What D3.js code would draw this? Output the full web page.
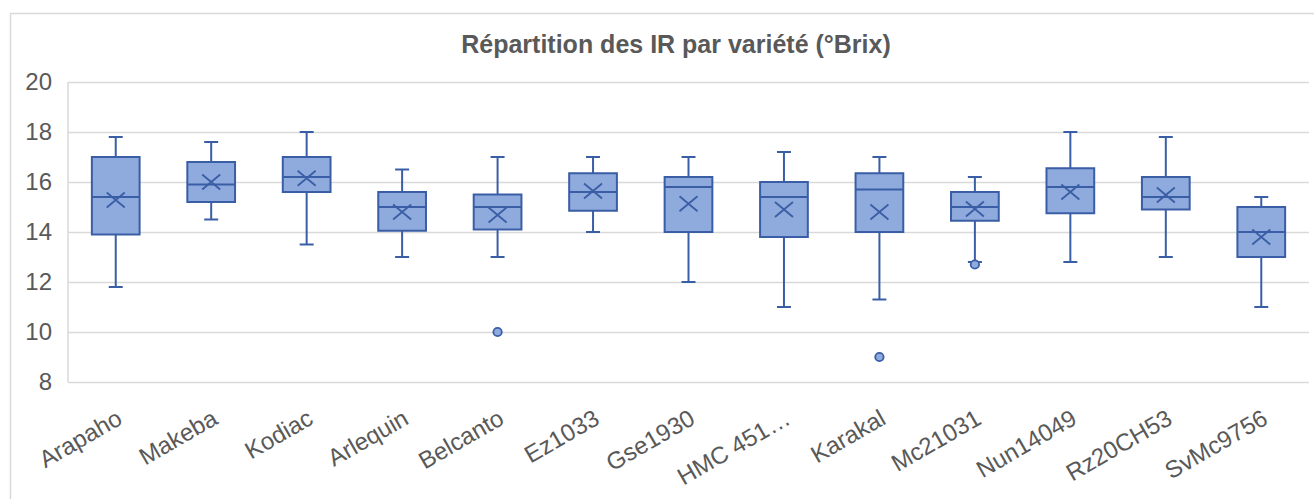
<!DOCTYPE html>
<html>
<head>
<meta charset="utf-8">
<script src="https://cdn.jsdelivr.net/npm/d3@7"></script>
<style>
  body { margin: 0; background: #fff; }
  svg { display: block; font-family: "Liberation Sans", Arial, sans-serif; }
</style>
</head>
<body>
<svg width="1314" height="499"></svg>
<script>
// data (°Brix)
const varieties = ["Arapaho", "Makeba", "Kodiac", "Arlequin", "Belcanto", "Ez1033", "Gse1930",
                   "HMC 451…", "Karakal", "Mc21031", "Nun14049", "Rz20CH53", "SvMc9756"];
const mins    = [11.8, 14.5, 13.5, 13.0, 13.0, 14.0, 12.0, 11.0, 11.3, 12.8, 12.8, 13.0, 11.0];
const q1s     = [13.9, 15.2, 15.6, 14.05, 14.1, 14.85, 14.0, 13.8, 14.0, 14.45, 14.75, 14.9, 13.0];
const medians = [15.4, 15.9, 16.2, 15.0, 15.0, 15.6, 15.8, 15.4, 15.7, 15.0, 15.8, 15.4, 14.0];
const q3s     = [17.0, 16.8, 17.0, 15.6, 15.5, 16.35, 16.2, 16.0, 16.35, 15.6, 16.55, 16.2, 15.0];
const maxs    = [17.8, 17.6, 18.0, 16.5, 17.0, 17.0, 17.0, 17.2, 17.0, 16.2, 18.0, 17.8, 15.4];
const means   = [15.28, 16.0, 16.15, 14.8, 14.68, 15.64, 15.13, 14.9, 14.8, 14.92, 15.6, 15.48, 13.8];
const outlierNames  = ["Belcanto", "Karakal", "Mc21031"];
const outlierValues = [10, 9, 12.7];
const yTicks = [8, 10, 12, 14, 16, 18, 20];
const title = "Répartition des IR par variété (°Brix)";

const textColor = "#595959";
const gridColor = "#d9d9d9";
const boxFill = "#8faadc";
const boxStroke = "#3a5ea6";

const svg = d3.select("svg");

// chart border
svg.append("rect")
  .attr("x", 10.5).attr("y", 13.5)
  .attr("width", 1340).attr("height", 520)
  .attr("fill", "white")
  .attr("stroke", gridColor)
  .attr("stroke-width", 1.5);

svg.append("text")
  .attr("x", 676).attr("y", 53)
  .attr("text-anchor", "middle")
  .attr("font-size", "25px")
  .attr("font-weight", "bold")
  .attr("fill", textColor)
  .text(title);

let xScale = d3.scaleBand().domain(varieties).range([68, 1309]).padding(0);
let yScale = d3.scaleLinear().domain([8, 20]).range([382, 82]);
const boxW = xScale.bandwidth() * 0.5;
const capW = 14;
const cx = d => xScale(d) + xScale.bandwidth() / 2;

// y axis + gridlines
let yAxis = d3.axisLeft().scale(yScale)
  .tickValues(yTicks).tickSizeOuter(0).tickSizeInner(-(1309 - 68)).tickPadding(16);
svg.append("g")
  .attr("id", "yAxisG")
  .attr("transform", "translate(68, 0)")
  .call(yAxis);
d3.select("#yAxisG .domain").remove();
d3.selectAll("#yAxisG g.tick line")
  .attr("stroke", gridColor)
  .attr("stroke-width", 1.5);
d3.selectAll("#yAxisG g.tick text")
  .attr("font-size", "24px")
  .attr("font-family", "Liberation Sans, Arial, sans-serif")
  .attr("fill", textColor);

// left edge of the plot area
svg.append("line")
  .attr("x1", 68).attr("x2", 68)
  .attr("y1", yScale(20)).attr("y2", yScale(8))
  .attr("stroke", gridColor)
  .attr("stroke-width", 1.5);

// x labels, rotated
let xAxis = d3.axisBottom().scale(xScale).tickSize(0).tickSizeOuter(0);
svg.append("g")
  .attr("id", "xAxisG")
  .attr("transform", "translate(0, 382)")
  .call(xAxis);
d3.select("#xAxisG .domain").remove();
d3.selectAll("#xAxisG g.tick text")
  .attr("font-size", "24px")
  .attr("font-family", "Liberation Sans, Arial, sans-serif")
  .attr("fill", textColor)
  .attr("text-anchor", "end")
  .attr("dy", null)
  .attr("y", 0)
  .attr("transform", "translate(8, 41) rotate(-30)");

// boxes
svg.selectAll("g.box")
  .data(varieties)
  .join("g")
  .attr("class", "box")
  .each(function (d, i) {
    const g = d3.select(this);
    const x = cx(d);

    // whisker
    g.append("line")
      .attr("x1", x).attr("x2", x)
      .attr("y1", yScale(maxs[i])).attr("y2", yScale(mins[i]))
      .attr("stroke", boxStroke).attr("stroke-width", 2);
    // caps
    [maxs[i], mins[i]].forEach(v => {
      g.append("line")
        .attr("x1", x - capW / 2).attr("x2", x + capW / 2)
        .attr("y1", yScale(v)).attr("y2", yScale(v))
        .attr("stroke", boxStroke).attr("stroke-width", 2);
    });
    // box
    g.append("rect")
      .attr("x", x - boxW / 2)
      .attr("y", yScale(q3s[i]))
      .attr("width", boxW)
      .attr("height", yScale(q1s[i]) - yScale(q3s[i]))
      .attr("fill", boxFill)
      .attr("stroke", boxStroke).attr("stroke-width", 2);
    // median
    g.append("line")
      .attr("x1", x - boxW / 2).attr("x2", x + boxW / 2)
      .attr("y1", yScale(medians[i])).attr("y2", yScale(medians[i]))
      .attr("stroke", boxStroke).attr("stroke-width", 2);
    // mean marker (x)
    const ym = yScale(means[i]);
    g.append("path")
      .attr("d", `M${x - 9},${ym - 7.5}L${x + 9},${ym + 7.5}M${x - 9},${ym + 7.5}L${x + 9},${ym - 7.5}`)
      .attr("stroke", boxStroke).attr("stroke-width", 1.8)
      .attr("fill", "none");
  });

// outliers
svg.selectAll("circle.outlier")
  .data(outlierNames)
  .join("circle")
  .attr("class", "outlier")
  .attr("cx", d => cx(d))
  .attr("cy", (d, i) => yScale(outlierValues[i]))
  .attr("r", 4.2)
  .attr("fill", boxFill)
  .attr("stroke", boxStroke)
  .attr("stroke-width", 1.8);
</script>
</body>
</html>
